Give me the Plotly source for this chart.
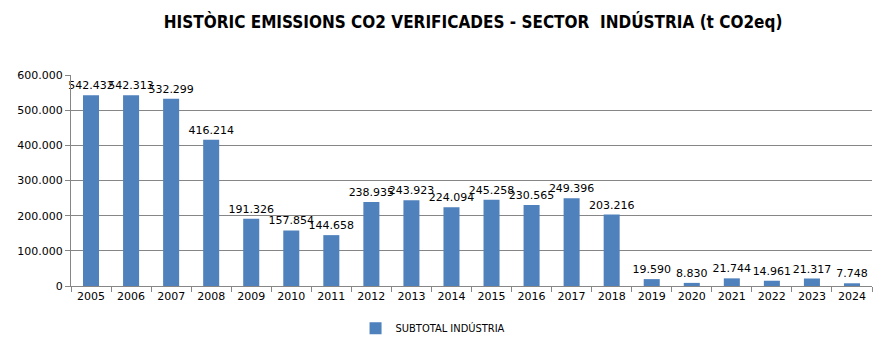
import plotly.graph_objects as go

years = [str(y) for y in range(2005, 2025)]
values = [542432, 542313, 532299, 416214, 191326, 157854, 144658, 238935, 243923, 224094,
          245258, 230565, 249396, 203216, 19590, 8830, 21744, 14961, 21317, 7748]
series_name = "SUBTOTAL INDÚSTRIA"
title = "HISTÒRIC EMISSIONS CO2 VERIFICADES - SECTOR  INDÚSTRIA (t CO2eq)"

fig = go.Figure(go.Bar(
    x=years, y=values, name=series_name,
    marker=dict(color="#4F81BD", line=dict(width=0)),
    texttemplate="%{y:,}", textposition="outside", cliponaxis=False,
    constraintext="none",
    textfont=dict(family="DejaVu Sans", size=11, color="#000000"),
    showlegend=True,
))

fig.update_layout(
    width=881, height=341,
    margin=dict(l=71, r=9, t=75, b=55, autoexpand=False),
    paper_bgcolor="white", plot_bgcolor="white",
    separators=",.",
    bargap=0.6,
    title=dict(text="<b>" + title + "</b>", x=0.537, xanchor="center", y=0.935, yanchor="middle",
               font=dict(family="DejaVu Sans Condensed, DejaVu Sans", size=17, color="#000000")),
    xaxis=dict(type="category", showline=True, linecolor="#868686", linewidth=1,
               ticks="outside", tickson="boundaries", ticklen=5, tickcolor="#868686",
               tickfont=dict(family="DejaVu Sans", size=11, color="#000000"), showgrid=False),
    yaxis=dict(range=[0, 600000], dtick=100000, tickformat=",d", showline=True, linecolor="#868686",
               ticks="outside", ticklen=5, tickcolor="#868686",
               gridcolor="#868686", gridwidth=1,
               tickfont=dict(family="DejaVu Sans", size=11, color="#000000"), zeroline=False),
    legend=dict(orientation="h", x=0.452, xanchor="center", y=-0.2, yanchor="middle",
                itemwidth=30, tracegroupgap=0,
                font=dict(family="DejaVu Sans Condensed, DejaVu Sans", size=11, color="#000000")),
)

fig.write_html("out.html")
